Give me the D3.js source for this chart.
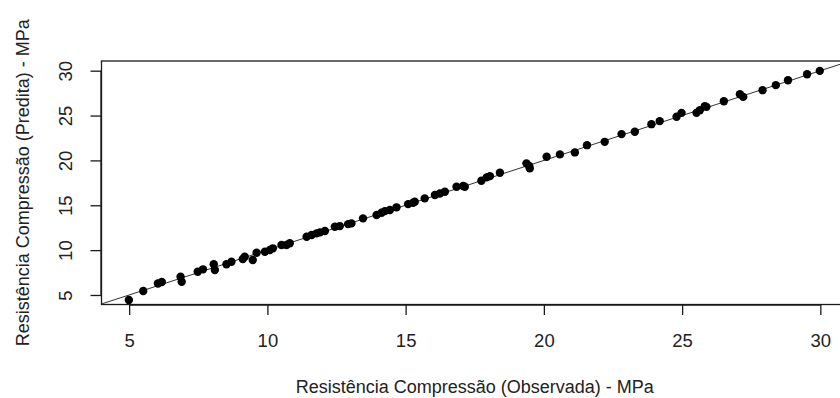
<!DOCTYPE html>
<html>
<head>
<meta charset="utf-8">
<script src="https://cdn.jsdelivr.net/npm/d3@7"></script>
<style>
  html, body { margin: 0; padding: 0; background: #fff; }
  svg { display: block; font-family: "Liberation Sans", Arial, sans-serif; }
</style>
</head>
<body>
<svg id="chart" width="840" height="398"></svg>
<script>
// Observed vs. predicted compressive strength (MPa)
const observed = [4.99, 5.51, 6.04, 6.18, 6.86, 6.90, 7.48, 7.67, 8.06, 8.10,
  8.52, 8.70, 9.11, 9.18, 9.47, 9.61, 9.91, 10.09, 10.20, 10.51,
  10.69, 10.81, 11.42, 11.60, 11.78, 11.90, 12.08, 12.44, 12.62, 12.92,
  13.04, 13.46, 13.95, 14.13, 14.25, 14.43, 14.67, 15.09, 15.27, 15.33,
  15.69, 16.06, 16.24, 16.42, 16.84, 17.08, 17.14, 17.74, 17.93, 18.05,
  18.41, 19.37, 19.47, 19.49, 20.10, 20.58, 21.12, 21.56, 22.20, 22.81,
  23.29, 23.89, 24.19, 24.80, 24.98, 25.52, 25.64, 25.82, 25.88, 26.51,
  27.09, 27.21, 27.91, 28.39, 28.83, 29.52, 29.98];
const predicted = [4.44, 5.45, 6.28, 6.45, 7.04, 6.48, 7.59, 7.86, 8.42, 7.78,
  8.42, 8.71, 9.01, 9.27, 8.90, 9.71, 9.82, 10.01, 10.20, 10.57,
  10.57, 10.76, 11.49, 11.68, 11.87, 11.98, 12.13, 12.61, 12.68, 12.90,
  12.98, 13.54, 13.91, 14.16, 14.35, 14.47, 14.77, 15.13, 15.28, 15.39,
  15.77, 16.14, 16.32, 16.50, 17.06, 17.14, 17.06, 17.73, 18.11, 18.25,
  18.62, 19.67, 19.37, 19.11, 20.40, 20.67, 20.89, 21.70, 22.07, 22.93,
  23.19, 24.04, 24.38, 24.86, 25.30, 25.30, 25.60, 26.05, 25.97, 26.60,
  27.38, 27.08, 27.83, 28.39, 28.94, 29.61, 29.98];
const xTicks = [5, 10, 15, 20, 25, 30];
const yTicks = [5, 10, 15, 20, 25, 30];
const xTitle = "Resistência Compressão (Observada) - MPa";
const yTitle = "Resistência Compressão (Predita) - MPa";

const svg = d3.select("#chart");
const plotL = 101.5, plotT = 61, plotB = 304.5, plotR = 848;

const x = d3.scaleLinear().domain([4, 31]).range([plotL, plotR]);
const y = d3.scaleLinear().domain([3.94, 31.08]).range([plotB, plotT]);

const ink = "#1a1a1a";

// clip region for the reference line
svg.append("defs").append("clipPath").attr("id", "plotArea")
  .append("rect").attr("x", plotL).attr("y", plotT)
  .attr("width", plotR - plotL).attr("height", plotB - plotT);

// 1:1 line
const lo = 3.9, hi = 31.1;
svg.append("line")
  .attr("clip-path", "url(#plotArea)")
  .attr("x1", x(lo)).attr("y1", y(lo))
  .attr("x2", x(hi)).attr("y2", y(hi))
  .attr("stroke", "#333").attr("stroke-width", 1);

// points
svg.append("g").selectAll("circle")
  .data(observed.map((d, i) => [d, predicted[i]]))
  .join("circle")
  .attr("cx", d => x(d[0]))
  .attr("cy", d => y(d[1]))
  .attr("r", 4.2)
  .attr("fill", "#000");

// plot frame
svg.append("rect")
  .attr("x", plotL).attr("y", plotT)
  .attr("width", plotR - plotL).attr("height", plotB - plotT)
  .attr("fill", "none").attr("stroke", ink).attr("stroke-width", 1.3);

// x axis
const xAxis = d3.axisBottom(x).tickValues(xTicks).tickSize(10.5).tickPadding(9);
const gx = svg.append("g").attr("transform", `translate(0,${plotB})`).call(xAxis);
gx.select(".domain").attr("d", `M${x(5)},0.5H${x(30)}`).attr("stroke", ink).attr("stroke-width", 1.3);
gx.selectAll(".tick line").attr("stroke", ink).attr("stroke-width", 1.3);
gx.selectAll(".tick text")
  .attr("font-size", 18.5).attr("fill", "#222")
  .attr("font-family", "Liberation Sans, Arial, sans-serif")
  .attr("dy", null).attr("y", 42);

// y axis (labels parallel to the axis)
const yAxis = d3.axisLeft(y).tickValues(yTicks).tickSize(11).tickPadding(0);
const gy = svg.append("g").attr("transform", `translate(${plotL},0)`).call(yAxis);
gy.select(".domain").attr("d", `M-0.5,${y(5)}V${y(30)}`).attr("stroke", ink).attr("stroke-width", 1.3);
gy.selectAll(".tick line").attr("stroke", ink).attr("stroke-width", 1.3);
gy.selectAll(".tick text")
  .attr("font-size", 18.5).attr("fill", "#222")
  .attr("font-family", "Liberation Sans, Arial, sans-serif")
  .attr("x", null).attr("dy", null)
  .attr("text-anchor", "middle")
  .attr("transform", "translate(-29.8,0) rotate(-90)")
  .attr("y", 0);

// axis titles
svg.append("text")
  .attr("x", (plotL + plotR) / 2).attr("y", 393)
  .attr("text-anchor", "middle")
  .attr("font-size", 18).attr("fill", "#222")
  .text(xTitle);

svg.append("text")
  .attr("transform", `translate(29,${(plotT + plotB) / 2}) rotate(-90)`)
  .attr("text-anchor", "middle")
  .attr("font-size", 18).attr("fill", "#222")
  .text(yTitle);
</script>
</body>
</html>
